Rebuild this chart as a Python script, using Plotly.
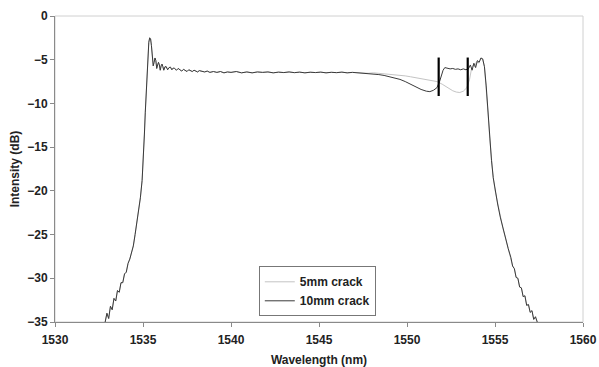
import plotly.graph_objects as go

# Shared parts of the spectrum
left_wl = [1532.85, 1532.95, 1533.05, 1533.15, 1533.25, 1533.35, 1533.45, 1533.55, 1533.65, 1533.75,
           1533.85, 1533.95, 1534.05, 1534.15, 1534.25, 1534.35, 1534.45, 1534.55, 1534.65, 1534.75,
           1534.85, 1534.95, 1535.02, 1535.08, 1535.13, 1535.18, 1535.23, 1535.28, 1535.33, 1535.38,
           1535.43, 1535.48, 1535.53, 1535.58, 1535.63, 1535.68, 1535.73, 1535.78, 1535.83, 1535.88,
           1535.93, 1535.98, 1536.03, 1536.08, 1536.13, 1536.18, 1536.25, 1536.32, 1536.40, 1536.48,
           1536.56, 1536.64, 1536.72, 1536.80, 1536.90, 1537.0, 1537.1, 1537.2, 1537.3, 1537.4,
           1537.5, 1537.6, 1537.7, 1537.8, 1537.9, 1538.0, 1538.1, 1538.2, 1538.35, 1538.5,
           1538.65, 1538.8, 1539.0, 1539.2, 1539.4, 1539.6, 1539.8, 1540.0, 1540.3, 1540.6,
           1540.9, 1541.2, 1541.5, 1541.8, 1542.1, 1542.4, 1542.7, 1543.0, 1543.3, 1543.6,
           1543.9, 1544.2, 1544.5, 1544.8, 1545.1, 1545.4, 1545.7, 1546.0, 1546.3, 1546.6,
           1546.9, 1547.2, 1547.5, 1547.8]
left_db = [-35.0, -34.0, -34.6, -33.2, -33.6, -32.3, -32.6, -31.4, -31.6, -30.5,
           -30.5, -29.5, -29.3, -28.3, -27.8, -26.9, -26.3, -25.0, -23.6, -22.3,
           -20.8, -18.8, -16.5, -13.5, -11.0, -8.5, -6.2, -4.3, -3.0, -2.5,
           -2.6, -3.4, -4.6, -5.7, -5.3, -4.8, -5.1, -6.0, -5.6, -5.3,
           -5.6, -6.2, -5.7, -5.5, -5.8, -6.2, -5.8, -5.8, -6.15, -5.9,
           -5.85, -6.15, -5.95, -6.0, -6.2, -6.0, -6.15, -6.3, -6.1, -6.2,
           -6.35, -6.15, -6.25, -6.35, -6.2, -6.3, -6.4, -6.25, -6.35, -6.4,
           -6.3, -6.45, -6.35, -6.45, -6.35, -6.5, -6.4, -6.45, -6.35, -6.5,
           -6.4, -6.5, -6.4, -6.45, -6.4, -6.5, -6.42, -6.47, -6.4, -6.48,
           -6.42, -6.5, -6.43, -6.47, -6.42, -6.5, -6.44, -6.48, -6.42, -6.5,
           -6.45, -6.5, -6.47, -6.55]

right_wl = [1554.6, 1554.7, 1554.8, 1554.9, 1555.0, 1555.15, 1555.3, 1555.45, 1555.6, 1555.75,
            1555.9, 1556.0, 1556.1, 1556.2, 1556.3, 1556.4, 1556.5, 1556.6, 1556.7, 1556.8,
            1556.9, 1557.0, 1557.1, 1557.2, 1557.3, 1557.4]
right_db = [-11.0, -14.0, -16.5, -18.5, -19.9, -21.5, -23.0, -24.3, -25.4, -26.6,
            -27.6, -28.6, -28.9, -29.9, -30.0, -31.0, -31.1, -32.1, -32.0, -33.1,
            -33.0, -33.9, -33.7, -34.7, -34.4, -35.0]

# Crack-dependent middle parts
mid10_wl = [1548.1, 1548.4, 1548.7, 1549.0, 1549.3, 1549.6, 1549.9, 1550.2, 1550.5, 1550.8,
            1551.1, 1551.3, 1551.5, 1551.7, 1551.85, 1551.95, 1552.05, 1552.15, 1552.3, 1552.45,
            1552.6, 1552.75, 1552.9, 1553.05, 1553.2, 1553.35, 1553.5, 1553.6, 1553.7, 1553.8,
            1553.9, 1554.0, 1554.1, 1554.2, 1554.3, 1554.4, 1554.5]
mid10_db = [-6.6, -6.7, -6.8, -6.95, -7.1, -7.25, -7.5, -7.8, -8.1, -8.4,
            -8.6, -8.65, -8.5, -8.2, -7.5, -6.8, -6.2, -5.9, -5.95, -6.05,
            -6.0, -6.1, -6.05, -6.15, -6.05, -6.15, -6.0, -5.6, -6.2, -5.4,
            -5.9, -5.1, -5.3, -4.8, -4.9, -5.8, -8.0]

mid5_wl = [1548.1, 1548.4, 1548.7, 1549.0, 1549.3, 1549.6, 1549.9, 1550.2, 1550.5, 1550.8,
           1551.1, 1551.4, 1551.7, 1552.0, 1552.3, 1552.6, 1552.8, 1553.0, 1553.2, 1553.4,
           1553.55, 1553.65, 1553.75, 1553.85, 1553.95, 1554.05, 1554.2, 1554.3, 1554.4, 1554.5]
mid5_db = [-6.5, -6.55, -6.6, -6.65, -6.7, -6.75, -6.85, -6.95, -7.05, -7.15,
           -7.25, -7.35, -7.5, -7.8, -8.2, -8.55, -8.7, -8.75, -8.6, -8.2,
           -7.3, -6.2, -5.6, -5.8, -5.2, -5.4, -4.85, -4.95, -5.8, -8.0]

# Crack position markers
marker_wl = [1551.8, 1553.45]
marker_top = -4.75
marker_bottom = -9.15

x5 = left_wl + mid5_wl + right_wl
y5 = left_db + mid5_db + right_db
x10 = left_wl + mid10_wl + right_wl
y10 = left_db + mid10_db + right_db

fig = go.Figure()
fig.add_trace(go.Scatter(x=x5, y=y5, mode="lines", name="5mm crack",
                         line=dict(color="#c4c4c4", width=1)))
fig.add_trace(go.Scatter(x=x10, y=y10, mode="lines", name="10mm crack",
                         line=dict(color="#3a3a3a", width=1)))
for mx in marker_wl:
    fig.add_trace(go.Scatter(x=[mx, mx], y=[marker_bottom, marker_top], mode="lines",
                             line=dict(color="#000000", width=2.2), showlegend=False,
                             hoverinfo="skip"))

bold = dict(family="Liberation Sans, Arial, sans-serif", size=12, color="#222222", weight="bold")
fig.update_layout(
    width=599, height=367,
    margin=dict(l=55, r=16, t=16, b=45, autoexpand=False),
    paper_bgcolor="white", plot_bgcolor="white",
    font=bold,
    showlegend=True,
    legend=dict(x=0.386, y=0.182, xanchor="left", yanchor="top",
                bordercolor="#777777", borderwidth=1, bgcolor="white",
                font=bold, tracegroupgap=0, itemwidth=30),
    shapes=[dict(type="rect", xref="paper", yref="paper", x0=0, x1=1, y0=0, y1=1,
                 line=dict(color="#d0d0d0", width=1), layer="below")],
)
fig.update_xaxes(range=[1530, 1560], tickvals=[1530, 1535, 1540, 1545, 1550, 1555, 1560],
                 tickfont=bold, automargin=False, ticklabelstandoff=3,
                 showgrid=False, zeroline=False, showline=True, linecolor="#8a8a8a", linewidth=1,
                 ticks="outside", ticklen=4, tickcolor="#8a8a8a",
                 title=dict(text="Wavelength (nm)", font=bold, standoff=9))
fig.update_yaxes(range=[-35, 0], tickvals=[0, -5, -10, -15, -20, -25, -30, -35],
                 tickfont=bold, automargin=False,
                 showgrid=False, zeroline=False, showline=True, linecolor="#8a8a8a", linewidth=1,
                 ticks="outside", ticklen=4, tickcolor="#8a8a8a",
                 title=dict(text="Intensity (dB)", font=bold, standoff=5))

fig.write_html("out.html")
